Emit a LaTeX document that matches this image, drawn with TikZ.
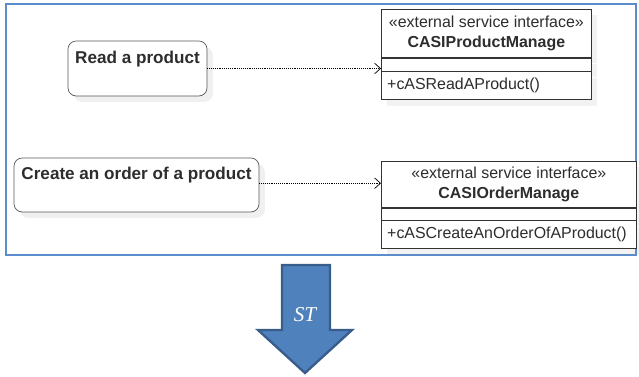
\documentclass[tikz,border=0pt]{standalone}
\usepackage{fontspec}
\setmainfont{Liberation Sans}
\newfontfamily\serifst{Liberation Serif}
\usetikzlibrary{positioning,shadows,arrows.meta}

\definecolor{frameblue}{RGB}{91,141,206}
\definecolor{bigarrowfill}{RGB}{79,129,189}
\definecolor{bigarrowline}{RGB}{56,93,138}
\definecolor{txtgray}{RGB}{45,45,45}

\tikzset{
  usecase/.style={draw=black!65, semithick, rounded corners=7pt, fill=white,
    align=center, text=txtgray, inner sep=1pt,
    font=\bfseries\fontsize{14.6}{15}\selectfont,
    drop shadow={opacity=0.12, shadow xshift=5pt, shadow yshift=-5pt}},
  classpart/.style={draw=black!80, semithick, fill=white, inner sep=2pt,
    text=txtgray, font=\fontsize{13.6}{17}\selectfont,
    drop shadow={opacity=0.10, shadow xshift=5pt, shadow yshift=-5pt}},
  dep/.style={densely dotted, semithick, -{Straight Barb[length=5pt,width=9pt]}},
}

\begin{document}
\begin{tikzpicture}[x=0.03cm, y=-0.03cm]

  \useasboundingbox (0,0) rectangle (639,377);

  % frame round the diagram
  \draw[frameblue, line width=1pt] (6,4) rectangle (636,255);

  % use cases
  \node[usecase, minimum width=4.17cm, minimum height=1.65cm] (read) at (137.5,68.5) {Read a product\\ \strut};
  \node[usecase, minimum width=7.35cm, minimum height=1.62cm] (create) at (136.5,185) {Create an order of a product\\ \strut};

  % class CASIProductManage
  \node[classpart, anchor=north west, minimum width=6.3cm, minimum height=1.44cm, align=center] (pmhead) at (381,9)
    {«external service interface»\\ \textbf{CASIProductManage}};
  \node[classpart, below=0pt of pmhead, minimum width=6.3cm, minimum height=0.39cm] (pmattr) {};
  \node[classpart, below=0pt of pmattr, minimum width=6.3cm, minimum height=0.84cm, text width=6.3cm-10pt, inner xsep=5pt, align=left] (pmop)
    {+cASReadAProduct()};

  % class CASIOrderManage
  \node[classpart, anchor=north west, minimum width=7.65cm, minimum height=1.38cm, align=center] (omhead) at (381,161)
    {«external service interface»\\ \textbf{CASIOrderManage}};
  \node[classpart, below=0pt of omhead, minimum width=7.65cm, minimum height=0.36cm] (omattr) {};
  \node[classpart, below=0pt of omattr, minimum width=7.65cm, minimum height=0.84cm, text width=7.65cm-10pt, inner xsep=5pt, align=left] (omop)
    {+cASCreateAnOrderOfAProduct()};

  % dependencies
  \draw[dep] (read.east) -- (read.east -| pmattr.west);
  \draw[dep] ([yshift=1.5pt]create.east) -- ([yshift=1.5pt]create.east -| omhead.west);

  % big arrow
  \draw[fill=bigarrowfill, draw=bigarrowline, line width=2pt, line join=miter]
    (282,265) -- (330,265) -- (330,330) -- (352,330) -- (305,373) -- (258,330) -- (282,330) -- cycle;
  \node[text=white, font=\serifst\itshape\fontsize{18}{20}\selectfont] (st) at (305,315) {ST};

\end{tikzpicture}
\end{document}
